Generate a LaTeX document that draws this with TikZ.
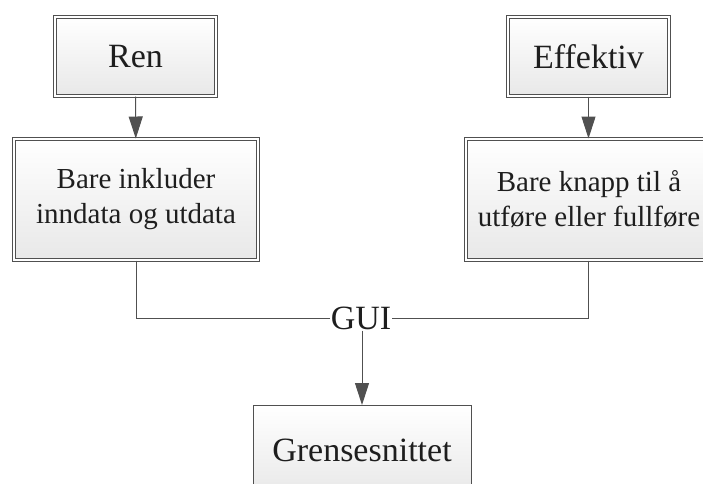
\documentclass[tikz,border=0pt]{standalone}
\usepackage{fontspec}
\setmainfont{Liberation Serif}
\usetikzlibrary{arrows.meta}
\definecolor{edge}{RGB}{80,80,80}
\definecolor{txt}{RGB}{30,30,30}
\begin{document}
\begin{tikzpicture}[x=1pt,y=-1pt,
  box/.style={draw=edge, line width=1pt, top color=white, bottom color=black!9,
    text=txt, align=center, inner sep=0pt},
  dbox/.style={box, double=white, double distance=2pt},
  bigtext/.style={font=\fontsize{34}{38}\selectfont},
  smalltext/.style={font=\fontsize{29}{35}\selectfont},
  conn/.style={draw=edge, line width=1pt},
  arr/.style={conn, -{Triangle[length=22pt,width=14pt]}}]
\useasboundingbox (0,0) rectangle (703,483);
\node[dbox, bigtext, minimum width=161pt, minimum height=79pt] (ren) at (135.5,56.5) {Ren};
\node[dbox, bigtext, minimum width=161pt, minimum height=79pt] (eff) at (588.5,56.5) {Effektiv};
\node[dbox, smalltext, minimum width=244pt, minimum height=121pt] (inc) at (136,199.5) {Bare inkluder\\inndata og utdata};
\node[dbox, smalltext, minimum width=246pt, minimum height=121pt] (knp) at (589,199.5) {Bare knapp til å\\utføre eller fullføre};
\node[box, bigtext, minimum width=218pt, minimum height=90pt, anchor=north] (gre) at (362,405) {Grensesnittet};
\node[text=txt, bigtext, inner sep=1pt] (gui) at (361,318) {GUI};
\draw[arr] (ren) -- (inc);
\draw[arr] (eff.south) -- (eff.south |- knp.north);
\draw[conn] (inc.south) |- (gui.west);
\draw[conn] (knp.south -| eff.south) |- (gui.east);
\draw[arr] (gui.south -| gre.north) -- (gre.north);
\end{tikzpicture}
\end{document}
